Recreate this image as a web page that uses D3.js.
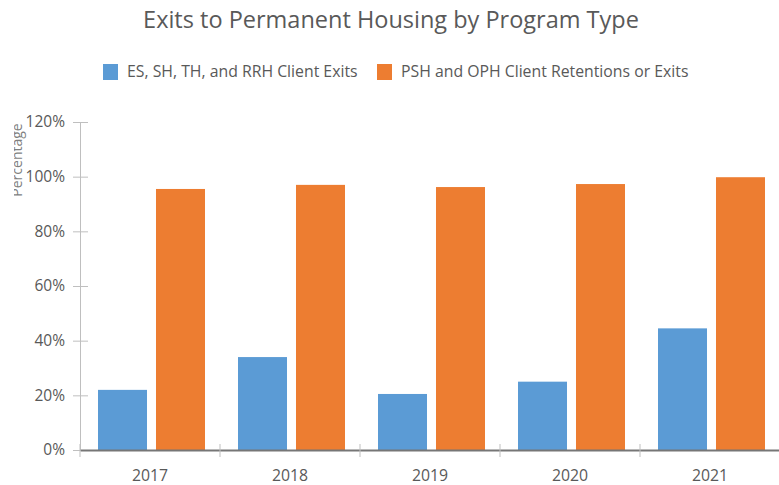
<!DOCTYPE html>
<html>
<head>
<meta charset="utf-8">
<script src="https://cdn.jsdelivr.net/npm/d3@7"></script>
<style>
	body { margin: 0; background: #fff; }
	svg { display: block; font-family: "Open Sans", sans-serif; }
</style>
</head>
<body>
<svg id="chart" width="779" height="485"></svg>
<script>
	// data
	var years = [ "2017", "2018", "2019", "2020", "2021" ];
	var seriesNames = [ "ES, SH, TH, and RRH Client Exits", "PSH and OPH Client Retentions or Exits" ];
	var shortTermExits = [ 0.22, 0.34, 0.205, 0.25, 0.445 ];
	var permanentRetentions = [ 0.955, 0.97, 0.962, 0.973, 0.998 ];
	var yTicks = [ 0, 0.2, 0.4, 0.6, 0.8, 1.0, 1.2 ];
	var colors = [ "#5b9bd5", "#ed7d31" ];

	var svg = d3.select("#chart");
	var textColor = "#595959";

	var x = d3.scaleBand().domain(years).range([ 80, 780 ]).padding(0);
	var xSub = d3.scaleBand().domain([ 0, 1 ]).range([ 18, 125 ]).paddingInner(0.155);
	var y = d3.scaleLinear().domain([ 0, 1.2 ]).range([ 450, 122 ]);

	// title
	svg.append("text")
		.attr("x", 391)
		.attr("y", 28)
		.attr("text-anchor", "middle")
		.attr("fill", textColor)
		.style("font-size", "23.5px")
		.text("Exits to Permanent Housing by Program Type");

	// legend
	var legendX = [ 103, 377 ];
	var legend = svg.selectAll(".legend").data(seriesNames).enter().append("g")
		.attr("class", "legend")
		.attr("transform", function(d, i) {
			return "translate(" + legendX[i] + ",64)";
		});
	legend.append("rect")
		.attr("width", 15)
		.attr("height", 16)
		.attr("fill", function(d, i) { return colors[i]; });
	legend.append("text")
		.attr("x", 24)
		.attr("y", 13)
		.attr("fill", textColor)
		.style("font-size", "15.8px")
		.text(function(d) { return d; });

	// y axis
	var yAxis = svg.append("g")
		.attr("transform", "translate(80,0)")
		.call(d3.axisLeft(y).tickValues(yTicks).tickFormat(d3.format(".0%")).tickSizeInner(7).tickSizeOuter(0).tickPadding(8));
	yAxis.select(".domain").attr("stroke", "#bfbfbf");
	yAxis.selectAll(".tick line").attr("stroke", "#bfbfbf").attr("x2", 8).attr("x1", -7);
	yAxis.selectAll(".tick text").attr("fill", textColor).style("font-size", "15.5px").style("font-family", "Open Sans");

	// y axis label, clipped at the left edge like the picture
	svg.append("clipPath").attr("id", "labelClip")
		.append("rect").attr("x", 14).attr("y", 100).attr("width", 20).attr("height", 120);
	svg.append("g")
		.attr("clip-path", "url(#labelClip)")
		.append("text")
		.attr("transform", "translate(22,160) rotate(-90)")
		.attr("text-anchor", "middle")
		.attr("fill", "#7f7f7f")
		.style("font-size", "14px")
		.text("Percentage");

	// bars
	var groups = svg.selectAll(".year").data(years).enter().append("g")
		.attr("class", "year")
		.attr("transform", function(d) { return "translate(" + x(d) + ",0)"; });
	groups.selectAll("rect")
		.data(function(d, i) { return [ shortTermExits[i], permanentRetentions[i] ]; })
		.enter().append("rect")
		.attr("x", function(d, j) { return xSub(j); })
		.attr("width", xSub.bandwidth())
		.attr("y", function(d) { return y(d); })
		.attr("height", function(d) { return y(0) - y(d); })
		.attr("fill", function(d, j) { return colors[j]; });

	// x axis
	var xAxis = svg.append("g")
		.attr("transform", "translate(0,450)")
		.call(d3.axisBottom(x).tickSize(0).tickPadding(20));
	xAxis.select(".domain").attr("stroke", "#767676").attr("stroke-width", 2);
	xAxis.selectAll(".tick text").attr("fill", textColor).style("font-size", "15.8px").style("font-family", "Open Sans");
	svg.append("g").selectAll("line").data(years).enter().append("line")
		.attr("x1", function(d) { return x(d); })
		.attr("x2", function(d) { return x(d); })
		.attr("y1", 444)
		.attr("y2", 457)
		.attr("stroke", "#bfbfbf");
</script>
</body>
</html>
